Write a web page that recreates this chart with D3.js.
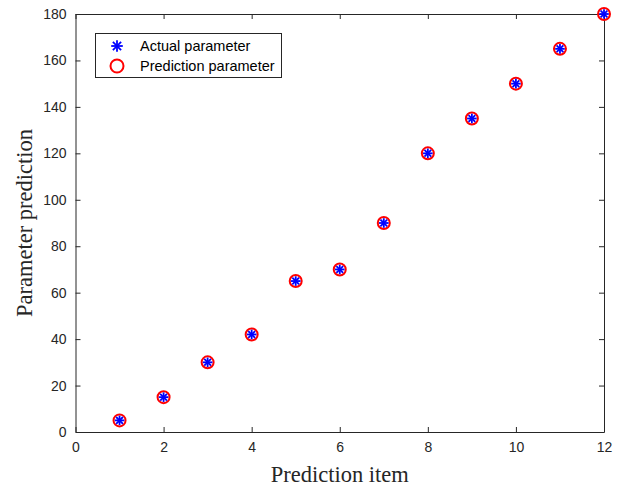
<!DOCTYPE html>
<html><head><meta charset="utf-8">
<script src="https://cdn.jsdelivr.net/npm/d3@7"></script>
<style>body{margin:0;background:#fff}</style>
</head><body>
<svg id="c" width="626" height="489"></svg>
<script>
const items = [1,2,3,4,5,6,7,8,9,10,11,12];
const actual = [5,15,30,42,65,70,90,120,135,150,165,180];
const predicted = [5,15,30,42,65,70,90,120,135,150,165,180];
const xTicks = [0,2,4,6,8,10,12];
const yTicks = [0,20,40,60,80,100,120,140,160,180];
const seriesNames = ["Actual parameter","Prediction parameter"];

const svg = d3.select("#c");
const L=75.5, R=604, T=14, B=432;
const x = d3.scaleLinear().domain([0,12]).range([L,R]);
const y = d3.scaleLinear().domain([0,180]).range([B,T]);
const ax="#262626";
const tf="'Liberation Sans',Arial,sans-serif";

const gx = svg.append("g").attr("transform",`translate(0,${B})`)
  .call(d3.axisBottom(x).tickValues(xTicks).tickSizeInner(-5).tickSizeOuter(0).tickPadding(10));
const gxt = svg.append("g").attr("transform",`translate(0,${T})`)
  .call(d3.axisTop(x).tickValues(xTicks).tickSizeInner(-5).tickSizeOuter(0).tickFormat(""));
const gy = svg.append("g").attr("transform",`translate(${L},0)`)
  .call(d3.axisLeft(y).tickValues(yTicks).tickSizeInner(-5).tickSizeOuter(0).tickPadding(9));
const gyr = svg.append("g").attr("transform",`translate(${R},0)`)
  .call(d3.axisRight(y).tickValues(yTicks).tickSizeInner(-5).tickSizeOuter(0).tickFormat(""));
[gx,gxt,gy,gyr].forEach(g=>{
  g.selectAll("path").attr("stroke",ax).attr("stroke-width",1);
  g.selectAll("line").attr("stroke",ax).attr("stroke-width",1);
  g.selectAll("text").attr("fill",ax).style("font-family",tf).style("font-size","14px");
});

const sf="'Liberation Serif','Times New Roman',serif";
svg.append("text").attr("x",(L+R)/2).attr("y",482).attr("text-anchor","middle")
  .style("font-family",sf).style("font-size","22.5px").attr("fill",ax)
  .text("Prediction item");
svg.append("text").attr("transform",`translate(32,${(T+B)/2}) rotate(-90)`).attr("text-anchor","middle")
  .style("font-family",sf).style("font-size","22.5px").attr("fill",ax)
  .text("Parameter prediction");

function asterisk(g, cx, cy, s){
  [0,45,90,135].forEach(d=>{
    const r = d*Math.PI/180;
    g.append("line").attr("x1",cx-s*Math.cos(r)).attr("y1",cy-s*Math.sin(r))
      .attr("x2",cx+s*Math.cos(r)).attr("y2",cy+s*Math.sin(r))
      .attr("stroke","#0000ff").attr("stroke-width",1.8);
  });
}

svg.append("g").selectAll("circle").data(items).join("circle")
  .attr("cx",(d)=>x(d)).attr("cy",(d,i)=>y(predicted[i])).attr("r",6)
  .attr("fill","none").attr("stroke","#ff0000").attr("stroke-width",2);
const ga = svg.append("g");
items.forEach((d,i)=>asterisk(ga, x(d), y(actual[i]), 4.8));

const lg = svg.append("g");
lg.append("rect").attr("x",95.5).attr("y",33.5).attr("width",186).attr("height",44)
  .attr("fill","#fff").attr("stroke",ax).attr("stroke-width",1);
asterisk(lg, 117, 46, 5.8);
lg.append("circle").attr("cx",117).attr("cy",66).attr("r",6.5).attr("fill","none").attr("stroke","#ff0000").attr("stroke-width",2);
lg.append("text").attr("x",140).attr("y",51).style("font-family",tf).style("font-size","14.5px").attr("fill","#000").text(seriesNames[0]);
lg.append("text").attr("x",140).attr("y",71).style("font-family",tf).style("font-size","14.5px").attr("fill","#000").text(seriesNames[1]);
</script>
</body></html>
